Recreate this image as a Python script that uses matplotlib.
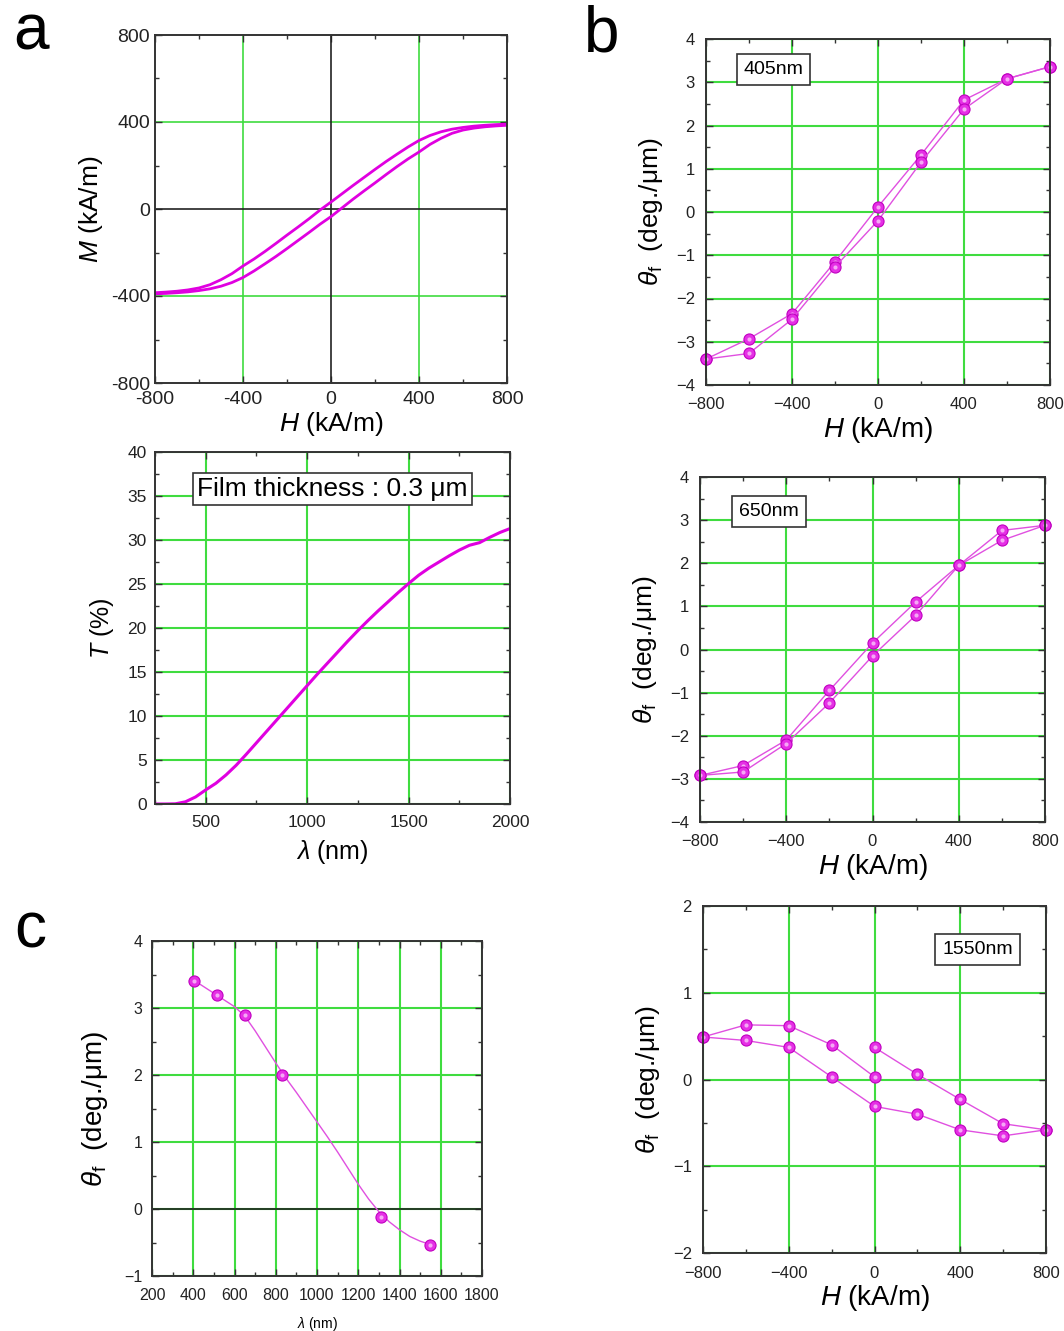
import numpy as np
import matplotlib.pyplot as plt
from matplotlib.ticker import MultipleLocator, FuncFormatter

plt.rcParams['font.family'] = ['Liberation Sans', 'DejaVu Sans']
plt.rcParams['mathtext.fontset'] = 'custom'
plt.rcParams['mathtext.rm'] = 'Liberation Sans'
plt.rcParams['mathtext.it'] = 'Liberation Sans:italic'
plt.rcParams['mathtext.bf'] = 'Liberation Sans:bold'

# ---- panel a (top): M-H hysteresis loop ----
H_loop = [-800, -750, -700, -650, -600, -550, -500, -450, -400, -350, -300, -250, -200, -150,
          -100, -50, 0, 50, 100, 150, 200, 250, 300, 350, 400, 450, 500, 550, 600, 650, 700,
          750, 800]
M_desc = [-385, -382, -378, -372, -363, -348, -325, -297, -262, -230, -195, -158, -120, -83,
          -45, -5, 32, 70, 108, 145, 182, 218, 252, 285, 315, 338, 355, 367, 375, 381, 385,
          388, 390]
M_asc = [-390, -388, -385, -381, -375, -367, -355, -338, -315, -285, -252, -218, -182, -145,
         -108, -70, -35, 5, 45, 83, 120, 158, 195, 230, 262, 297, 325, 348, 363, 372, 378,
         382, 385]

# ---- panel a (bottom): transmittance ----
wl_T = [250, 300, 350, 400, 450, 500, 550, 600, 650, 700, 750, 800, 850, 900, 950, 1000,
        1050, 1100, 1150, 1200, 1250, 1300, 1350, 1400, 1450, 1500, 1550, 1600, 1650,
        1700, 1750, 1800, 1850, 1900, 1950, 2000]
T_pct = [0, 0, 0.02, 0.25, 0.8, 1.6, 2.35, 3.3, 4.4, 5.65, 6.95, 8.25, 9.55, 10.85, 12.15,
         13.45, 14.75, 16.0, 17.25, 18.5, 19.7, 20.85, 21.95, 23.0, 24.05, 25.05, 26.0, 26.8,
         27.5, 28.2, 28.85, 29.4, 29.7, 30.3, 30.85, 31.3]

# ---- panel b: Faraday rotation loops ----
H_pts = [-800, -600, -400, -200, 0, 200, 400, 600, 800]
rot405_a = [-3.4, -2.93, -2.35, -1.15, 0.12, 1.32, 2.59, 3.08, 3.36]
rot405_b = [-3.4, -3.27, -2.48, -1.27, -0.20, 1.15, 2.38, 3.08, 3.36]
rot650_a = [-2.92, -2.69, -2.10, -0.95, 0.15, 1.10, 1.95, 2.76, 2.88]
rot650_b = [-2.92, -2.84, -2.18, -1.24, -0.15, 0.79, 1.95, 2.53, 2.88]
H_neg = [-800, -600, -400, -200, 0]
H_pos = [0, 200, 400, 600, 800]
rot1550_upper_neg = [0.49, 0.63, 0.62, 0.40, 0.03]
rot1550_upper_pos = [0.37, 0.06, -0.23, -0.51, -0.58]
rot1550_lower = [0.49, 0.45, 0.37, 0.03, -0.31, -0.40, -0.58, -0.65, -0.58]

# ---- panel c: rotation vs wavelength ----
wl_pts = [405, 515, 650, 830, 1310, 1550]
rot_pts = [3.40, 3.20, 2.90, 2.00, -0.12, -0.53]
wl_fit = [400, 450, 500, 550, 600, 650, 700, 750, 800, 850, 900, 950, 1000, 1050, 1100,
          1150, 1200, 1250, 1300, 1350, 1400, 1450, 1500, 1550]
rot_fit = [3.42, 3.32, 3.22, 3.12, 3.02, 2.88, 2.66, 2.42, 2.18, 1.95, 1.74, 1.52, 1.30,
           1.08, 0.85, 0.61, 0.37, 0.15, -0.04, -0.19, -0.31, -0.41, -0.48, -0.53]

GREEN = '#3fdc3f'
MAG = '#e000e0'
MAG_LINE = '#e050e0'
FRAME = '#333333'

W, Hh = 1064, 1331
fig = plt.figure(figsize=(10.64, 13.31), dpi=100)


def box(x0, y0, x1, y1):
    return [x0 / W, 1 - y1 / Hh, (x1 - x0) / W, (y1 - y0) / Hh]


def hyph(v, p):
    return f"{v:g}"


def uminus(v, p):
    return f"{v:g}".replace("-", "\u2212")


def style(ax, xmaj, xmin, ymaj, ymin, fs, fmt):
    ax.xaxis.set_major_locator(MultipleLocator(xmaj))
    ax.xaxis.set_minor_locator(MultipleLocator(xmin))
    ax.yaxis.set_major_locator(MultipleLocator(ymaj))
    ax.yaxis.set_minor_locator(MultipleLocator(ymin))
    ax.xaxis.set_major_formatter(FuncFormatter(fmt))
    ax.yaxis.set_major_formatter(FuncFormatter(fmt))
    ax.tick_params(which='both', direction='in', top=True, right=True, color=FRAME,
                   labelsize=fs, labelcolor='#222222')
    ax.tick_params(which='major', length=5, width=1)
    ax.tick_params(which='minor', length=3, width=1)
    for s in ax.spines.values():
        s.set_linewidth(1.4)
        s.set_color(FRAME)
    ax.set_axisbelow(True)


def balls(ax, xs, ys, line=True):
    ax.plot(xs, ys, color=MAG_LINE, lw=1.0 if line else 0, marker='o', ms=8,
            mfc='#e530e5', mec='#c000c0', mew=0.8, clip_on=False)
    ax.plot(xs, ys, ls='none', marker='o', ms=3, mfc='#f6a8f6', mec='none', clip_on=False)


# ---------- a top ----------
ax = fig.add_axes(box(155, 35, 507, 383))
ax.plot(H_loop, M_desc, color=MAG, lw=2.0)
ax.plot(H_loop, M_asc, color=MAG, lw=2.0)
ax.set_xlim(-800, 800)
ax.set_ylim(-800, 800)
style(ax, 400, 200, 400, 200, 14, hyph)
for v in (-400, 400):
    ax.axvline(v, color=GREEN, lw=1.2, zorder=0)
    ax.axhline(v, color=GREEN, lw=1.2, zorder=0)
ax.axvline(0, color='#222222', lw=1.2, zorder=1)
ax.axhline(0, color='#222222', lw=1.2, zorder=1)
ax.set_xlabel(r'$H$ (kA/m)', fontsize=19, labelpad=1)
ax.set_ylabel(r'$M$ (kA/m)', fontsize=19, labelpad=4)
ax.tick_params(axis='x', pad=6)

# ---------- a bottom ----------
ax = fig.add_axes(box(155, 452, 510, 804))
ax.plot(wl_T, T_pct, color=MAG, lw=2.2)
ax.set_xlim(250, 2000)
ax.set_ylim(0, 40)
style(ax, 500, 250, 5, 2.5, 12.5, hyph)
ax.grid(which='major', color=GREEN, lw=1.5)
ax.text(0.5, 0.895, 'Film thickness : 0.3 \u03bcm', transform=ax.transAxes, fontsize=19,
        ha='center', va='center',
        bbox=dict(boxstyle='square,pad=0.15', fc='white', ec=FRAME, lw=1.2))
ax.set_xlabel(r'$\lambda$ (nm)', fontsize=18, labelpad=6)
ax.set_ylabel(r'$T$ (%)', fontsize=18, labelpad=8)
ax.tick_params(axis='x', pad=8)
ax.tick_params(axis='y', pad=6)

# ---------- c ----------
ax = fig.add_axes(box(152, 941, 482, 1276))
ax.plot(wl_fit, rot_fit, color=MAG_LINE, lw=1.0)
balls(ax, wl_pts, rot_pts, line=False)
ax.set_xlim(200, 1800)
ax.set_ylim(-1, 4)
style(ax, 200, 100, 1, 0.5, 11.5, uminus)
ax.tick_params(axis='x', pad=9)
ax.tick_params(axis='y', pad=7)
ax.grid(which='major', color=GREEN, lw=1.5)
ax.axhline(0, color='#222222', lw=1.2, zorder=1)
ax.set_xlabel(r'$\lambda$ (nm)', fontsize=10, labelpad=8)
ax.set_ylabel('$\\theta_\\mathrm{f}$  (deg./\u03bcm)', fontsize=20, labelpad=10)

# ---------- b panels ----------
b_specs = [
    (box(706, 39, 1050, 385), (-4, 4), '405nm', (0.196, 0.912)),
    (box(700, 477, 1045, 822), (-4, 4), '650nm', (0.20, 0.90)),
    (box(703, 906, 1046, 1253), (-2, 2), '1550nm', (0.80, 0.875)),
]
b_series = [
    [(H_pts, rot405_a), (H_pts, rot405_b)],
    [(H_pts, rot650_a), (H_pts, rot650_b)],
    [(H_neg, rot1550_upper_neg), (H_pos, rot1550_upper_pos), (H_pts, rot1550_lower)],
]
for (rect, ylim, label, tpos), series in zip(b_specs, b_series):
    ax = fig.add_axes(rect)
    for xs, ys in series:
        balls(ax, xs, ys)
    ax.set_xlim(-800, 800)
    ax.set_ylim(*ylim)
    style(ax, 400, 200, 1, 0.5, 12, uminus)
    ax.tick_params(axis='x', pad=9)
    ax.tick_params(axis='y', pad=8)
    ax.grid(which='major', color=GREEN, lw=1.5)
    ax.text(tpos[0], tpos[1], label, transform=ax.transAxes, fontsize=14,
            ha='center', va='center',
            bbox=dict(boxstyle='square,pad=0.35', fc='white', ec=FRAME, lw=1.2))
    ax.set_xlabel(r'$H$ (kA/m)', fontsize=20, labelpad=2)
    ax.set_ylabel('$\\theta_\\mathrm{f}$  (deg./\u03bcm)', fontsize=19, labelpad=8)

# panel letters
fig.text(13 / W, 1 - 50 / Hh, 'a', fontsize=46, va='baseline')
fig.text(584 / W, 1 - 52 / Hh, 'b', fontsize=46, va='baseline')
fig.text(14 / W, 1 - 948 / Hh, 'c', fontsize=46, va='baseline')

fig.savefig('out.png', dpi=100, facecolor='white')
